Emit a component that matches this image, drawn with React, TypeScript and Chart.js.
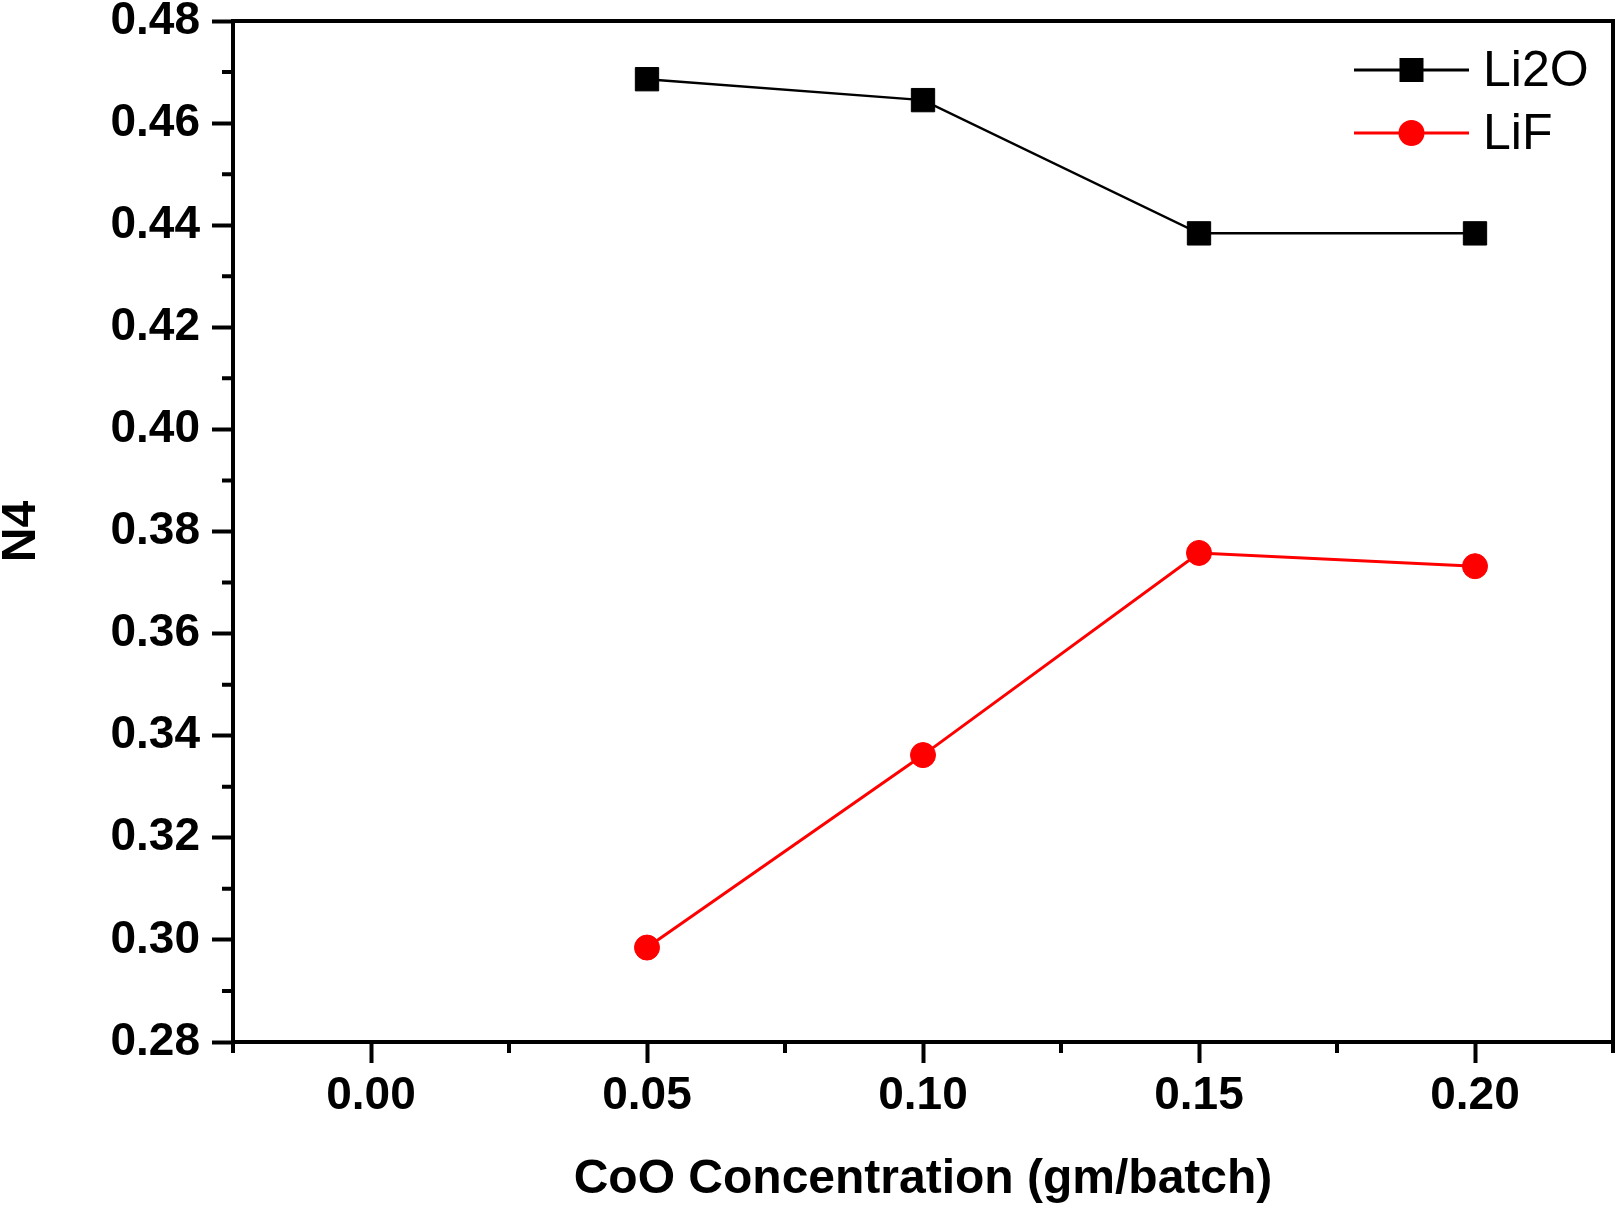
import React, { useEffect, useRef } from 'react';
import { Chart, registerables } from 'chart.js';

Chart.register(...registerables);

// ---- data ----
const xValues = [0.05, 0.1, 0.15, 0.2];
const li2oValues = [0.4686, 0.4645, 0.4384, 0.4384];
const lifValues = [0.2985, 0.3362, 0.3758, 0.3732];
const seriesNames = ['Li2O', 'LiF'];
const seriesColors = ['#000000', '#ff0000'];
const xMajorTicks = [0.0, 0.05, 0.1, 0.15, 0.2];
const xMinorTicks = [-0.025, 0.025, 0.075, 0.125, 0.175, 0.225];
const yMajorTicks = [0.28, 0.3, 0.32, 0.34, 0.36, 0.38, 0.4, 0.42, 0.44, 0.46, 0.48];
const yMinorTicks = [0.29, 0.31, 0.33, 0.35, 0.37, 0.39, 0.41, 0.43, 0.45, 0.47];
const xTitle = 'CoO Concentration (gm/batch)';
const yTitle = 'N4';

const FONT = "'Liberation Sans', Arial, Helvetica, sans-serif";

const framePlugin = {
  id: 'frameAndMinor',
  afterDraw(chart: any) {
    const { ctx, chartArea, scales } = chart;
    const { left, right, top, bottom } = chartArea;
    ctx.save();
    ctx.strokeStyle = '#000';
    ctx.lineWidth = 4;
    ctx.strokeRect(left, top, right - left, bottom - top);
    // minor ticks
    ctx.beginPath();
    for (const v of yMinorTicks) {
      const py = scales.y.getPixelForValue(v);
      ctx.moveTo(left - 11, py);
      ctx.lineTo(left, py);
    }
    for (const v of xMinorTicks) {
      const px = scales.x.getPixelForValue(v);
      ctx.moveTo(px, bottom);
      ctx.lineTo(px, bottom + 11);
    }
    ctx.stroke();

    // legend
    const lx0 = 1354;
    const lx1 = 1469;
    const mx = (lx0 + lx1) / 2;
    chart.data.datasets.forEach((ds: any, i: number) => {
      const y = 70 + i * 63;
      ctx.strokeStyle = ds.borderColor;
      ctx.lineWidth = 3;
      ctx.beginPath();
      ctx.moveTo(lx0, y);
      ctx.lineTo(lx1, y);
      ctx.stroke();
      ctx.fillStyle = ds.borderColor;
      if (ds.pointStyle === 'rect') {
        ctx.fillRect(mx - 12, y - 12, 24, 24);
      } else {
        ctx.beginPath();
        ctx.arc(mx, y, 13, 0, Math.PI * 2);
        ctx.fill();
      }
      ctx.fillStyle = '#000';
      ctx.font = `50px ${FONT}`;
      ctx.textBaseline = 'middle';
      ctx.textAlign = 'left';
      ctx.fillText(ds.label, 1483, y + 2);
    });
    ctx.restore();
  },
};

export default function App() {
  const ref = useRef<HTMLCanvasElement | null>(null);

  useEffect(() => {
    document.body.style.margin = '0';
    const canvas = ref.current;
    if (!canvas) return;
    const chart = new Chart(canvas, {
      type: 'line',
      data: {
        datasets: [
          {
            label: seriesNames[0],
            data: xValues.map((x, i) => ({ x, y: li2oValues[i] })),
            borderColor: seriesColors[0],
            backgroundColor: seriesColors[0],
            borderWidth: 2.5,
            pointStyle: 'rect',
            pointRadius: 16.5,
            pointBorderWidth: 1,
            pointBackgroundColor: seriesColors[0],
            pointBorderColor: seriesColors[0],
            tension: 0,
          },
          {
            label: seriesNames[1],
            data: xValues.map((x, i) => ({ x, y: lifValues[i] })),
            borderColor: seriesColors[1],
            backgroundColor: seriesColors[1],
            borderWidth: 3,
            pointStyle: 'circle',
            pointRadius: 12.5,
            pointBorderWidth: 1,
            pointBackgroundColor: seriesColors[1],
            pointBorderColor: seriesColors[1],
            tension: 0,
          },
        ],
      },
      options: {
        responsive: false,
        maintainAspectRatio: false,
        animation: false,
        devicePixelRatio: 1,
        layout: { autoPadding: false, padding: { top: 21, right: 3, left: 0, bottom: 0 } },
        plugins: {
          legend: { display: false },
          tooltip: { enabled: false },
        },
        scales: {
          x: {
            type: 'linear',
            position: 'bottom',
            min: -0.025,
            max: 0.225,
            afterBuildTicks: (s: any) => {
              s.ticks = xMajorTicks.map((v) => ({ value: v }));
            },
            afterFit: (s: any) => {
              s.height = 164;
              s.paddingLeft = 0;
              s.paddingRight = 0;
              s.paddingTop = 0;
              s.paddingBottom = 0;
            },
            border: { display: false },
            grid: {
              display: true,
              drawOnChartArea: false,
              drawTicks: true,
              tickLength: 21,
              tickWidth: 4,
              tickColor: '#000',
              color: '#000',
            },
            ticks: {
              color: '#000',
              padding: 6,
              maxRotation: 0,
              autoSkip: false,
              font: { family: FONT, size: 46, weight: 'bold', lineHeight: 1.2 },
              callback: (v: any) => Number(v).toFixed(2),
            },
            title: {
              display: true,
              text: xTitle,
              color: '#000',
              font: { family: FONT, size: 48, weight: 'bold', lineHeight: 1.1 },
              padding: { top: 0, bottom: 0 },
            },
          },
          y: {
            type: 'linear',
            position: 'left',
            min: 0.28,
            max: 0.48,
            afterBuildTicks: (s: any) => {
              s.ticks = yMajorTicks.map((v) => ({ value: v }));
            },
            afterFit: (s: any) => {
              s.width = 233;
              s.paddingLeft = 0;
              s.paddingRight = 0;
              s.paddingTop = 0;
              s.paddingBottom = 0;
            },
            border: { display: false },
            grid: {
              display: true,
              drawOnChartArea: false,
              drawTicks: true,
              tickLength: 21,
              tickWidth: 4,
              tickColor: '#000',
              color: '#000',
            },
            ticks: {
              color: '#000',
              padding: 12,
              autoSkip: false,
              font: { family: FONT, size: 46, weight: 'bold', lineHeight: 1.2 },
              callback: (v: any) => Number(v).toFixed(2),
            },
            title: {
              display: true,
              text: yTitle,
              color: '#000',
              font: { family: FONT, size: 48, weight: 'bold', lineHeight: 0.9 },
              padding: 0,
            },
          },
        },
      },
      plugins: [framePlugin],
    } as any);
    return () => chart.destroy();
  }, []);

  return (
    <canvas
      ref={ref}
      width={1616}
      height={1206}
      style={{ display: 'block', width: 1616, height: 1206 }}
    />
  );
}
